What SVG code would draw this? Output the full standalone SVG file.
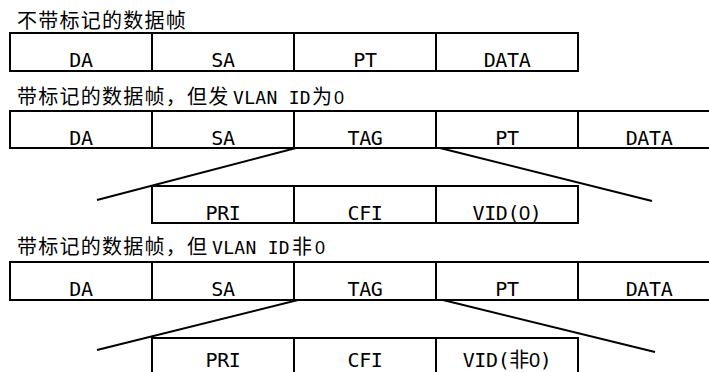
<svg xmlns="http://www.w3.org/2000/svg" width="709" height="372" viewBox="0 0 709 372">
<style>
.bg{fill:#fff}
.box{fill:none;stroke:#000;stroke-width:2}
.div{stroke:#000;stroke-width:2}
.lbl{font-family:"DejaVu Sans Mono","Noto Sans CJK SC",monospace;font-size:20px;letter-spacing:-0.4px;text-anchor:middle;fill:#000}
.ttl{font-family:"Noto Sans CJK SC","Noto Sans CJK JP",sans-serif;font-size:20px;letter-spacing:1.25px;fill:#000}
.lat{font-family:"DejaVu Sans Mono",monospace;font-size:18px;letter-spacing:0.3px}
.zero{font-family:"Liberation Sans",Arial,sans-serif}
.con{stroke:#000;stroke-width:2;fill:none}
</style>
<rect class="bg" x="0" y="0" width="709" height="372"/>

<g id="title1"><text class="ttl" x="17" y="28">不带标记的数据帧</text></g>
<g id="frame1">
  <path class="box" d="M10,33 H578 V71 H10 Z"/>
  <path class="div" d="M152,33 V71 M294,33 V71 M436,33 V71"/>
  <text class="lbl" x="81" y="67">DA</text>
  <text class="lbl" x="223" y="67">SA</text>
  <text class="lbl" x="365" y="67">PT</text>
  <text class="lbl" x="507" y="67">DATA</text>
</g>

<g id="title2"><text class="ttl" x="17" y="104">带标记的数据帧，但发<tspan class="lat" x="233">VLAN ID</tspan><tspan x="312">为</tspan><tspan class="zero" x="334" font-size="18px">0</tspan></text></g>
<g id="frame2">
  <path class="box" d="M710,111 H10 V148 H710"/>
  <path class="div" d="M152,111 V148 M294,111 V148 M436,111 V148 M578,111 V148"/>
  <text class="lbl" x="81" y="145">DA</text>
  <text class="lbl" x="223" y="145">SA</text>
  <text class="lbl" x="365" y="145">TAG</text>
  <text class="lbl" x="507" y="145">PT</text>
  <text class="lbl" x="649" y="145">DATA</text>
</g>
<g id="tag2">
  <path class="box" d="M152,186 H578 V223 H152 Z"/>
  <path class="div" d="M294,186 V223 M436,186 V223"/>
  <text class="lbl" x="223" y="220">PRI</text>
  <text class="lbl" x="365" y="220">CFI</text>
  <text class="lbl" x="507" y="220">VID(<tspan class="zero">0</tspan>)</text>
</g>

<g id="title3"><text class="ttl" x="17" y="254">带标记的数据帧，但<tspan class="lat" x="212">VLAN ID</tspan><tspan x="292">非</tspan><tspan class="zero" x="315" font-size="18px">0</tspan></text></g>
<g id="frame3">
  <path class="box" d="M710,262 H10 V300 H710"/>
  <path class="div" d="M152,262 V300 M294,262 V300 M436,262 V300 M578,262 V300"/>
  <text class="lbl" x="81" y="296">DA</text>
  <text class="lbl" x="223" y="296">SA</text>
  <text class="lbl" x="365" y="296">TAG</text>
  <text class="lbl" x="507" y="296">PT</text>
  <text class="lbl" x="649" y="296">DATA</text>
</g>
<g id="tag3">
  <path class="box" d="M152,376 V338 H578 V376"/>
  <path class="div" d="M294,338 V376 M436,338 V376"/>
  <text class="lbl" x="223" y="367">PRI</text>
  <text class="lbl" x="365" y="367">CFI</text>
  <text class="lbl" x="507" y="367">VID(非<tspan class="zero">0</tspan>)</text>
</g>

<g id="connectors">
  <line class="con" x1="296" y1="148" x2="97" y2="200"/>
  <line class="con" x1="440" y1="148" x2="652" y2="201"/>
  <line class="con" x1="298" y1="300" x2="97" y2="350"/>
  <line class="con" x1="443" y1="300" x2="655" y2="352"/>
</g>
</svg>
